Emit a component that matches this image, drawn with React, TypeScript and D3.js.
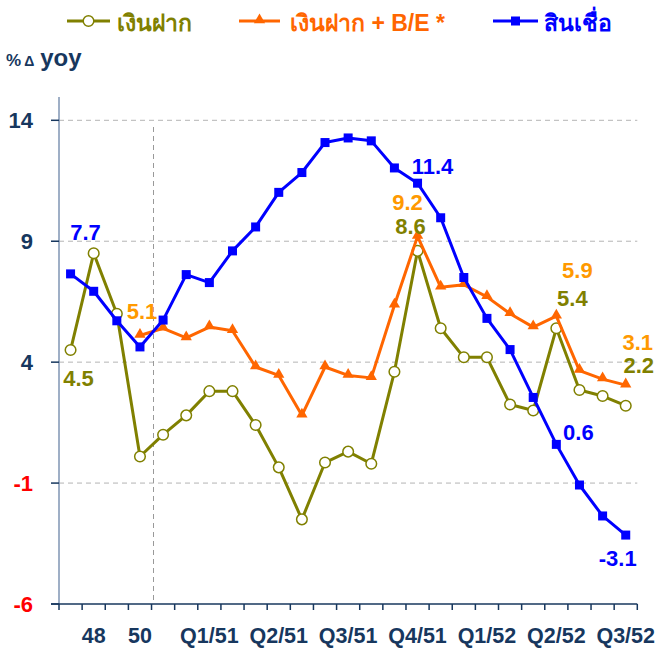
import React from "react";
import * as d3 from "d3";

const categories = [
  "2547", "2548", "2549", "2550",
  "ม.ค.51", "ก.พ.51", "มี.ค.51", "เม.ย.51", "พ.ค.51", "มิ.ย.51",
  "ก.ค.51", "ส.ค.51", "ก.ย.51", "ต.ค.51", "พ.ย.51", "ธ.ค.51",
  "ม.ค.52", "ก.พ.52", "มี.ค.52", "เม.ย.52", "พ.ค.52", "มิ.ย.52",
  "ก.ค.52", "ส.ค.52", "ก.ย.52",
];
const xTickLabels = [
  "", "48", "", "50", "", "", "Q1/51", "", "", "Q2/51", "", "", "Q3/51",
  "", "", "Q4/51", "", "", "Q1/52", "", "", "Q2/52", "", "", "Q3/52",
];
const deposits = [
  4.5, 8.5, 6.0, 0.1, 1.0, 1.8, 2.8, 2.8, 1.4, -0.35, -2.5, -0.15, 0.3,
  -0.2, 3.6, 8.6, 5.4, 4.2, 4.2, 2.25, 2.0, 5.4, 2.85, 2.6, 2.2,
];
const depositsBE: (number | null)[] = [
  null, null, null, 5.1, 5.4, 5.0, 5.45, 5.3, 3.8, 3.45, 1.8, 3.8, 3.45,
  3.35, 6.35, 9.2, 7.1, 7.2, 6.7, 6.0, 5.45, 5.9, 3.65, 3.3, 3.05,
];
const loans = [
  7.65, 6.93, 5.71, 4.63, 5.74, 7.62, 7.29, 8.6, 9.59, 11.02, 11.84, 13.08,
  13.27, 13.15, 12.03, 11.4, 9.97, 7.5, 5.81, 4.52, 2.54, 0.6, -1.08, -2.36,
  -3.15,
];
const yTicks = [14, 9, 4, -1, -6];
const seriesNames = ["เงินฝาก", "เงินฝาก + B/E *", "สินเชื่อ"];
const dataLabels = [
  { s: 2, i: 0, t: "7.7", dx: 15, dy: -34 },
  { s: 0, i: 0, t: "4.5", dx: 8, dy: 36 },
  { s: 1, i: 3, t: "5.1", dx: 2, dy: -17 },
  { s: 2, i: 15, t: "11.4", dx: 15, dy: -9 },
  { s: 1, i: 15, t: "9.2", dx: -10, dy: -26 },
  { s: 0, i: 15, t: "8.6", dx: -7, dy: -17 },
  { s: 1, i: 21, t: "5.9", dx: 21, dy: -38 },
  { s: 0, i: 21, t: "5.4", dx: 16, dy: -22 },
  { s: 1, i: 24, t: "3.1", dx: 12, dy: -35 },
  { s: 0, i: 24, t: "2.2", dx: 13, dy: -33 },
  { s: 2, i: 21, t: "0.6", dx: 22, dy: -4 },
  { s: 2, i: 24, t: "-3.1", dx: -8, dy: 31 },
];

const OLIVE = "#808000";
const ORANGE = "#FF6600";
const ORANGE_LBL = "#FF9900";
const BLUE = "#0000FF";
const NAVY = "#17375E";
const FONT = "'Liberation Sans', Arial, 'Noto Sans', sans-serif";

export default function App() {
  const left = 59, right = 637.3, top = 120.3, bottom = 604;
  const x = d3.scaleBand<string>().domain(categories).range([left, right]).padding(0);
  const y = d3.scaleLinear().domain([-6, 14]).range([bottom, top]);
  const cx = (i: number) => (x(categories[i]) as number) + x.bandwidth() / 2;
  const series = [deposits, depositsBE, loans];
  const colors = [OLIVE, ORANGE, BLUE];
  const lblColors = [OLIVE, ORANGE_LBL, BLUE];

  const line = d3
    .line<number | null>()
    .defined((d) => d !== null)
    .x((_, i) => cx(i))
    .y((d) => y(d as number));

  const tri = d3.symbol().type(d3.symbolTriangle).size(55)();

  const marker = (s: number, px: number, py: number, key: string) => {
    if (s === 0)
      return <circle key={key} cx={px} cy={py} r={5.3} fill="white" stroke={OLIVE} strokeWidth={1.5} />;
    if (s === 1)
      return <path key={key} d={tri as string} transform={`translate(${px},${py - 1})`} fill={ORANGE} />;
    return <rect key={key} x={px - 4.5} y={py - 4.5} width={9} height={9} fill={BLUE} />;
  };

  const boundaries = d3.range(categories.length + 1).map((k) => left + k * x.bandwidth());

  const legend = [
    { x0: 67, x1: 110, tx: 117 },
    { x0: 239, x1: 280, tx: 290 },
    { x0: 493, x1: 538, tx: 544 },
  ];

  return (
    <svg width={658} height={648} style={{ position: "absolute", left: 0, top: 0, background: "white" }} fontFamily={FONT}>
      <rect width={658} height={648} fill="white" />
      {/* legend */}
      {legend.map((l, s) => (
        <g key={"lg" + s}>
          <line x1={l.x0} x2={l.x1} y1={21} y2={21} stroke={colors[s]} strokeWidth={3} />
          {marker(s, (l.x0 + l.x1) / 2, 21, "lm" + s)}
          <text x={l.tx} y={31} fill={colors[s]} fontSize={23} fontWeight="bold">
            {seriesNames[s]}
          </text>
        </g>
      ))}
      <text x={6} y={66} fill={NAVY} fontWeight="bold">
        <tspan fontSize={17}>%</tspan>
        <tspan fontSize={14} dx={3}>Δ</tspan>
        <tspan fontSize={24} dx={6}>yoy</tspan>
      </text>

      {/* grid */}
      {yTicks.filter((t) => t !== -6).map((t) => (
        <line key={"g" + t} x1={left} x2={right} y1={y(t)} y2={y(t)} stroke="#b4b4b4" strokeWidth={1} strokeDasharray="5,4" />
      ))}
      <line x1={153.5} x2={153.5} y1={127} y2={bottom} stroke="#999" strokeWidth={1} strokeDasharray="5,4" />

      {/* axes */}
      <line x1={left} x2={left} y1={97} y2={bottom} stroke="#7F95B3" strokeWidth={1.5} />
      <line x1={51} x2={right} y1={bottom} y2={bottom} stroke={NAVY} strokeWidth={1.5} />
      {yTicks.map((t) => (
        <g key={"yt" + t}>
          <line x1={51} x2={left} y1={y(t)} y2={y(t)} stroke={NAVY} strokeWidth={1.5} />
          <text x={33} y={y(t)} dy="0.36em" textAnchor="end" fontSize={22} fontWeight="bold" fill={t < 0 ? "#FF0000" : NAVY}>
            {t}
          </text>
        </g>
      ))}
      {boundaries.map((b, k) => (
        <line key={"xt" + k} x1={b} x2={b} y1={bottom} y2={bottom + 6} stroke={NAVY} strokeWidth={1.5} />
      ))}
      {xTickLabels.map((t, i) =>
        t ? (
          <text key={"xl" + i} x={cx(i)} y={643} textAnchor="middle" fontSize={21.5} fontWeight="bold" fill={NAVY}>
            {t}
          </text>
        ) : null
      )}

      {/* series */}
      {series.map((data, s) => (
        <g key={"s" + s}>
          <path d={line(data as (number | null)[]) as string} fill="none" stroke={colors[s]} strokeWidth={3} strokeLinejoin="round" />
          {data.map((d, i) => (d === null ? null : marker(s, cx(i), y(d as number), `m${s}-${i}`)))}
        </g>
      ))}

      {/* data labels */}
      {dataLabels.map((l, k) => (
        <text key={"dl" + k} x={cx(l.i) + l.dx} y={y(series[l.s][l.i] as number) + l.dy} textAnchor="middle" fontSize={22} fontWeight="bold" fill={lblColors[l.s]}>
          {l.t}
        </text>
      ))}
    </svg>
  );
}
